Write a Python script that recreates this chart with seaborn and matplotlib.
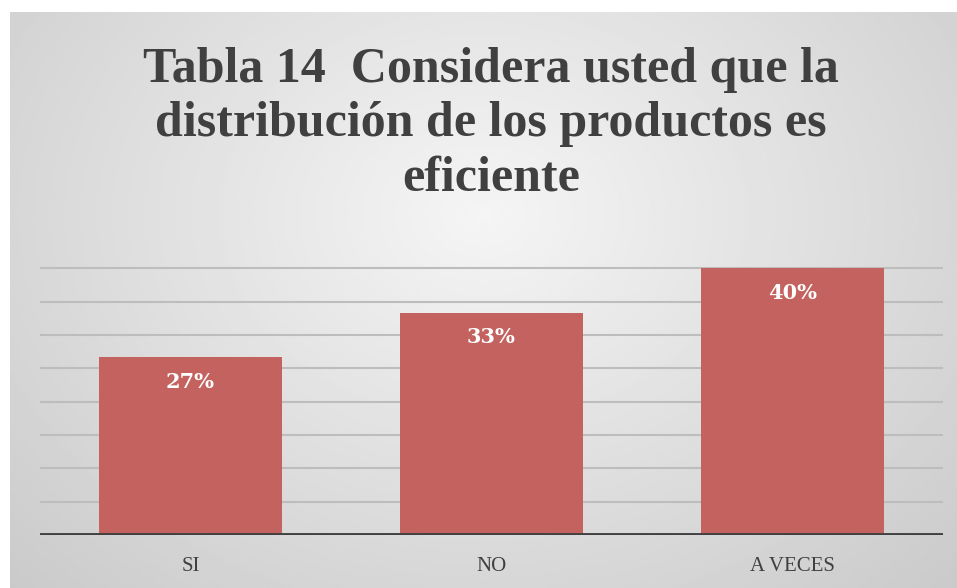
import numpy as np
import pandas as pd
import matplotlib
matplotlib.use("Agg")
import matplotlib.pyplot as plt
import seaborn as sns

categories = ["SI", "NO", "A VECES"]
values = [26.67, 33.33, 40.0]
labels = ["27%", "33%", "40%"]
title = "Tabla 14  Considera usted que la\ndistribución de los productos es\neficiente"

sns.set_theme(style="white")
plt.rcParams["font.family"] = ["DejaVu Serif", "DejaVu Sans"]

W, H = 957, 588
fig = plt.figure(figsize=(W / 100, H / 100), dpi=100)
fig.patch.set_facecolor("white")

# background panel with radial gradient
bg = fig.add_axes([10 / W, 0, 1 - 10 / W, (H - 12) / H])
yy, xx = np.mgrid[-1:1:200j, -1:1:300j]
r = np.sqrt((xx * 0.9) ** 2 + ((yy + 0.3) * 0.7) ** 2)
grad = 0.96 - 0.17 * np.clip(r, 0, 1.3) / 1.3
bg.imshow(grad, cmap="gray", vmin=0, vmax=1, aspect="auto", extent=[0, 1, 0, 1])
bg.set_axis_off()

left, right = 40 / W, 943 / W
bottom, top = (H - 535) / H, (H - 235) / H
ax = fig.add_axes([left, bottom, right - left, top - bottom])
ax.patch.set_alpha(0)

df = pd.DataFrame({"cat": categories, "val": values})
sns.barplot(data=df, x="cat", y="val", color="#c4625f", saturation=1,
            width=0.605, ax=ax, zorder=3, edgecolor="none")

ax.set_ylim(0, 45)
ax.set_xlim(-0.5, 2.5)
for g in range(5, 45, 5):
    ax.axhline(g, color="#bdbdbd", lw=1.5, zorder=1)
ax.axhline(0, color="#404040", lw=3.5, zorder=5)

for i, (v, lab) in enumerate(zip(values, labels)):
    ax.text(i, v - 3.7, lab, ha="center", va="center", color="white",
            fontsize=15, fontweight="bold", zorder=6)

ax.set_xlabel("")
ax.set_ylabel("")
ax.set_yticks([])
ax.set_xticks(range(len(categories)))
ax.set_xticklabels(categories, family=["Liberation Serif"], fontsize=15, color="#404040")
ax.tick_params(axis="x", length=0, pad=16)
for s in ax.spines.values():
    s.set_visible(False)

fig.text(491 / W, (H - 124) / H, title, ha="center", va="center", fontsize=36,
         fontweight="bold", color="#404040", linespacing=1.23,
         family=["Liberation Serif"])

fig.savefig("out.png", dpi=100)
